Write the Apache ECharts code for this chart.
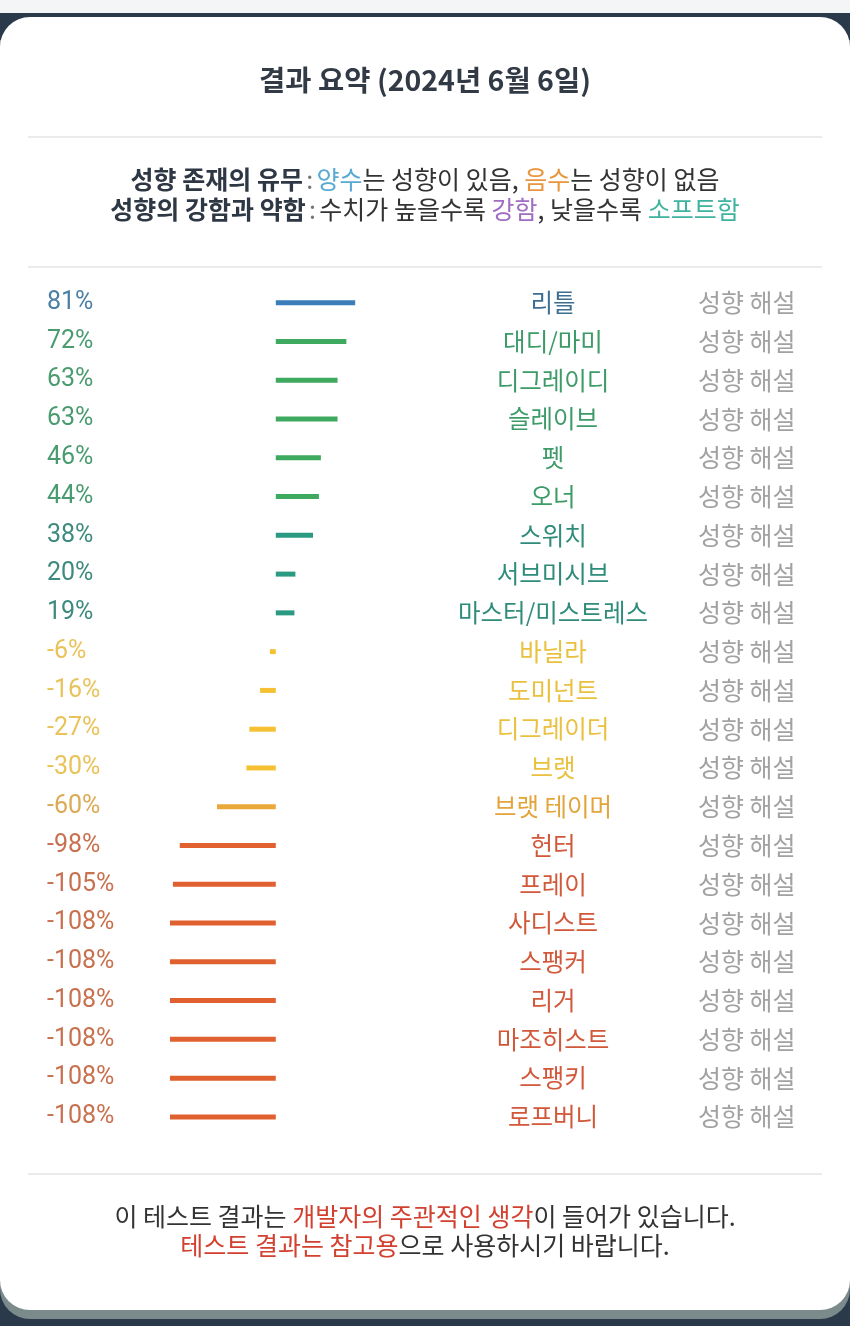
<!DOCTYPE html>
<html><head><meta charset="utf-8">
<script src="https://cdn.jsdelivr.net/npm/echarts@6/dist/echarts.min.js"></script>
<style>
html,body{margin:0;padding:0;width:850px;height:1326px;overflow:hidden;background:#2b3a4b;}
#top{position:absolute;left:0;top:0;width:850px;height:13px;background:#f4f5f6;}
#shadow{position:absolute;left:0;top:40px;width:850px;height:1279px;background:#7b8b8c;border-radius:0 0 30px 30px;}
#card{position:absolute;left:0;top:17px;width:850px;height:1293px;background:#fff;border-radius:30px;}
#chart{position:absolute;left:0;top:0;width:850px;height:1326px;}
</style></head>
<body>
<div id="top"></div><div id="shadow"></div><div id="card"></div>
<div id="chart"></div>
<script>
const names = ['리틀','대디/마미','디그레이디','슬레이브','펫','오너','스위치','서브미시브','마스터/미스트레스','바닐라','도미넌트','디그레이더','브랫','브랫 테이머','헌터','프레이','사디스트','스팽커','리거','마조히스트','스팽키','로프버니'];
const values = [81,72,63,63,46,44,38,20,19,-6,-16,-27,-30,-60,-98,-105,-108,-108,-108,-108,-108,-108];
const rightLabel = '성향 해설';

function group(v){
  if (v >= 80) return 0;
  if (v >= 40) return 1;
  if (v > 0) return 2;
  if (v > -50) return 3;
  if (v > -90) return 4;
  return 5;
}
const barColors = ['#3a7db8','#3daa5f','#2a9a82','#f5c132','#eba83a','#e0612f'];
const pctColors = ['#4b7fa5','#4a9b70','#3f8a7e','#e9c35a','#dcaa55','#c8714f'];
const nameColors = ['#3e6f93','#3d9b68','#2f8c7a','#e9c13f','#e3a43a','#d2583a'];

const chart = echarts.init(document.getElementById('chart'), null, {renderer:'canvas'});
const KR = '"Noto Sans CJK KR", "Noto Sans", sans-serif';
const gL = 168, gR = 364;
const cat = values.map((v,i)=>i);

const F = '25px ' + KR;
const richHead = {
  b:{font:'bold '+F, fill:'#2e3744'},
  g:{font:F, fill:'#777'},
  n:{font:F, fill:'#333'},
  blue:{font:F, fill:'#5aa9d2'},
  or:{font:F, fill:'#e8963f'},
  pu:{font:F, fill:'#a06cc4'},
  te:{font:F, fill:'#3fb3a0'},
  r:{font:F, fill:'#d2402f'}
};
function line(text, top){
  return {type:'text', left:'center', top: top, style:{text: text, rich: richHead}};
}

chart.setOption({
  backgroundColor: 'transparent',
  animation: false,
  grid: {left: gL, width: gR - gL, top: 283.3, height: 853, containLabel: false},
  xAxis: {type:'value', min:-110, max:90, show:false},
  yAxis: [
    {type:'category', data:cat, inverse:true, position:'left',
     axisLine:{show:false}, axisTick:{show:false},
     axisLabel:{margin: gL - 47, align:'left', fontFamily:'Roboto, sans-serif', fontSize:25,
       formatter:(v)=> values[v] + '%', color:(v, i)=> pctColors[group(values[i])]}},
    {type:'category', data:cat, inverse:true, position:'right',
     axisLine:{show:false}, axisTick:{show:false},
     axisLabel:{margin: 553 - gR, align:'center', fontFamily:KR, fontSize:24.5,
       formatter:(v)=> names[v], color:(v, i)=> nameColors[group(values[i])]}},
    {type:'category', data:cat, inverse:true, position:'right', offset:0,
     axisLine:{show:false}, axisTick:{show:false},
     axisLabel:{margin: 698 - gR, align:'left', fontFamily:KR, fontSize:25,
       formatter:()=> rightLabel, color:'#a2a2a2'}}
  ],
  series: [{
    type:'bar', barWidth:5, yAxisIndex:0,
    data: values.map(v=>({value:v, itemStyle:{color: barColors[group(v)]}})),
  }],
  graphic: [
    {type:'text', left:'center', top:66, style:{text:'결과 요약 (2024년 6월 6일)', font:'bold 28.5px ' + KR, fill:'#323a46'}},
    {type:'rect', shape:{x:28, y:136, width:794, height:2}, style:{fill:'#ebebeb'}},
    {type:'rect', shape:{x:28, y:266, width:794, height:2}, style:{fill:'#ebebeb'}},
    {type:'rect', shape:{x:28, y:1173, width:794, height:2}, style:{fill:'#ebebeb'}},
    line('{b|성향 존재의 유무} {g|:} {blue|양수}{n|는 성향이 있음, }{or|음수}{n|는 성향이 없음}', 167),
    line('{b|성향의 강함과 약함} {g|:} {n|수치가 높을수록 }{pu|강함}{n|, 낮을수록 }{te|소프트함}', 197),
    line('{n|이 테스트 결과는 }{r|개발자의 주관적인 생각}{n|이 들어가 있습니다.}', 1204),
    line('{r|테스트 결과는 참고용}{n|으로 사용하시기 바랍니다.}', 1233)
  ]
});
</script>
</body></html>
